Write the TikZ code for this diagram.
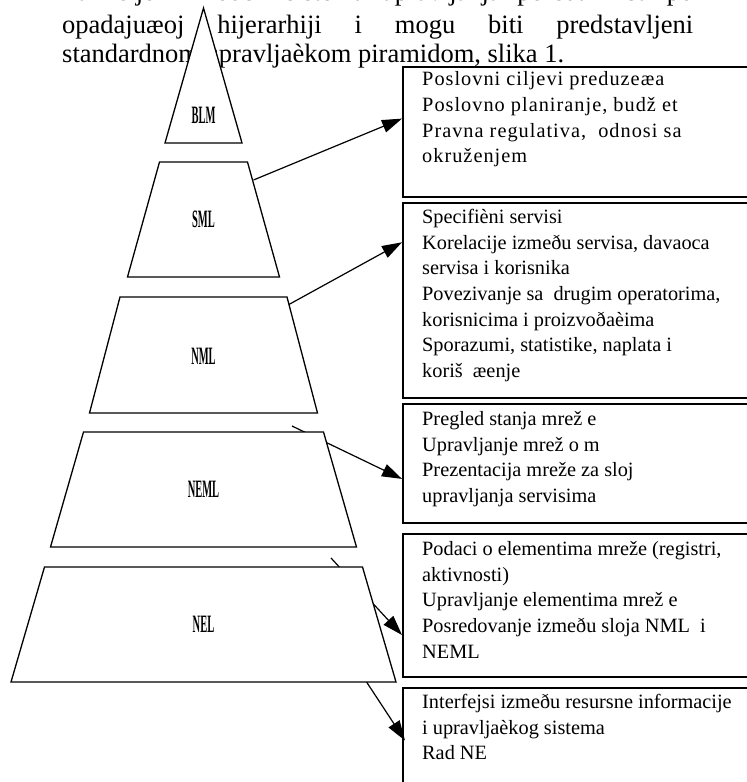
\documentclass[tikz,border=0pt]{standalone}
\usepackage{fontspec}
\setmainfont{Liberation Serif}
\usepackage{graphicx}
\usetikzlibrary{arrows.meta,calc,positioning}
\tikzset{
  layer/.style={
    draw,
    fill=white,
    line width=1.3pt
  },
  lname/.style={
    font=\fontsize{25}{25}\selectfont\bfseries,
    inner sep=0pt
  },
  frame/.style={
    draw,
    line width=1.5pt,
    minimum width=360pt,
    anchor=north west,
    inner sep=0pt
  },
  entry/.style={
    font=\fontsize{20.3}{25.7}\selectfont,
    align=left,
    anchor=north west,
    inner sep=0pt
  },
  para/.style={
    font=\fontsize{26.5}{29}\selectfont,
    anchor=base west,
    inner sep=0pt
  },
  arr/.style={
    line width=1.2pt,
    -{Triangle[length=20pt,width=13pt]}
  },
}

\begin{document}
\begin{tikzpicture}[x=1pt,y=-1pt]
  \useasboundingbox (0,0) rectangle (747,782);
  \clip (0,0) rectangle (747,782);
  \node[para] (p1) at (62,0) {\makebox[631pt][s]{Funkcije i modeli sistema upravljanja poredani su po}};
  \node[para] (p2) at (62,33) {\makebox[631pt][s]{opadajuæoj hijerarhiji i mogu biti predstavljeni}};
  \node[para] (p3) at (62,62) {standardnom upravljaèkom piramidom, slika 1.};

  \node[frame, minimum height=130pt] (b1) at (402,66) {};
  \node[frame, minimum height=195pt] (b2) at (402,202) {};
  \node[frame, minimum height=119pt] (b3) at (402,403) {};
  \node[frame, minimum height=143pt] (b4) at (402,533) {};
  \node[frame, minimum height=110pt] (b5) at (402,687) {};

  \node[entry, font=\fontsize{20.3}{25.7}\selectfont\addfontfeature{LetterSpace=5}] (e1) at ([shift={(20,5.5)}]b1.north west) {Poslovni ciljevi preduzeæa\\Poslovno planiranje, budž et\\Pravna regulativa,\ \ odnosi sa\\okruženjem};
  \node[entry] (e2) at ([shift={(20,7)}]b2.north west) {Specifièni servisi\\Korelacije izmeðu servisa, davaoca\\servisa i korisnika\\Povezivanje sa\ \ drugim operatorima,\\korisnicima i proizvoðaèima\\Sporazumi, statistike, naplata i\\koriš\ \ æenje};
  \node[entry] (e3) at ([shift={(20,8)}]b3.north west) {Pregled stanja mrež e\\Upravljanje mrež o m\\Prezentacija mreže za sloj\\upravljanja servisima};
  \node[entry] (e4) at ([shift={(20,8)}]b4.north west) {Podaci o elementima mreže (registri,\\aktivnosti)\\Upravljanje elementima mrež e\\Posredovanje izmeðu sloja NML\ \ i\\NEML};
  \node[entry] (e5) at ([shift={(20,7)}]b5.north west) {Interfejsi izmeðu resursne informacije\\i upravljaèkog sistema\\Rad NE};

  \coordinate (s1) at (253.5,180);
  \coordinate (s2) at (288,305);
  \coordinate (s3) at (292,426);
  \coordinate (s4) at (331,558);
  \coordinate (s5) at (360,672);
  \draw[arr] (s1) -- ($(b1.north west)!0.4!(b1.south west)$);
  \draw[arr] (s2) -- ($(b2.north west)!0.205!(b2.south west)$);
  \draw[arr] (s3) -- ($(b3.north west)!0.63!(b3.south west)$);
  \draw[arr] (s4) -- ($(b4.north west)!0.706!(b4.south west)$);
  \draw[arr] (s5) -- ([xshift=3pt]$(b5.north west)!0.48!(b5.south west)$);

  \foreach \n/\ya/\yb/\wa/\wb/\yl in {BLM/8/143/0/38.5/115,SML/162/277/44/76/219,NML/297/413/83.5/114/356,NEML/432/547/120/153/489,NEL/567/682/159/192.5/624}{
    \draw[layer] (203.5-\wa,\ya) -- (203.5+\wa,\ya) -- (203.5+\wb,\yb) -- (203.5-\wb,\yb) -- cycle;
    \node[lname] (\n) at (203.5,\yl) {\scalebox{0.42}[1]{\n}};
  }
\end{tikzpicture}
\end{document}
